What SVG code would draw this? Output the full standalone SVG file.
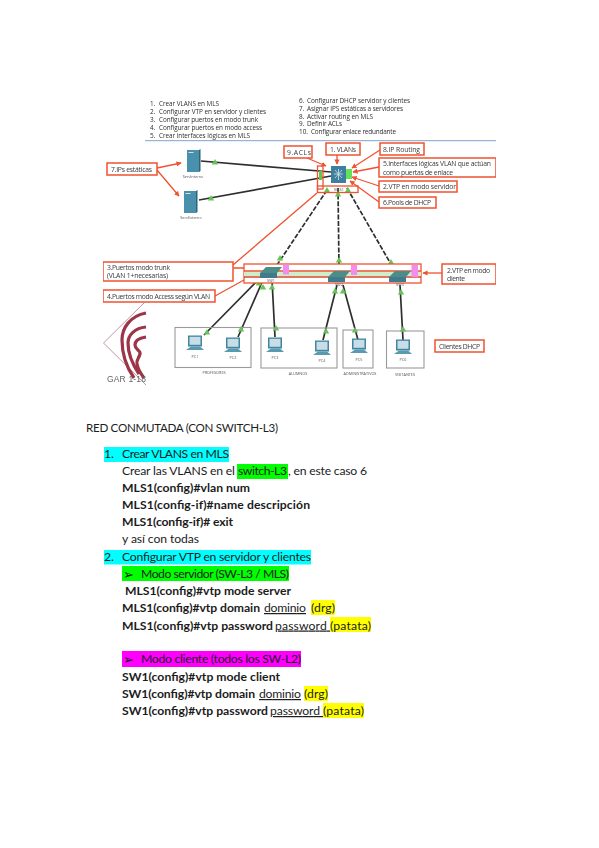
<svg xmlns="http://www.w3.org/2000/svg" width="599" height="848" viewBox="0 0 599 848">
<style>
.f{font-family:"Open Sans","Noto Sans",sans-serif;fill:#2e2e2e}
.s{font-size:6.400px}
.b{font-size:6.800px;fill:#3a3a3a}
.c{font-size:3.800px;fill:#555;text-anchor:middle}
.box{fill:#fff;stroke:#ef5230;stroke-width:1.500}
.nb{fill:none;stroke:#ef5230;stroke-width:1.300}
.ar{fill:none;stroke:#ef5230;stroke-width:1.300;marker-end:url(#a)}
.l{fill:none;stroke:#2f2f2f;stroke-width:1.700}
.d{fill:none;stroke:#2f2f2f;stroke-width:1.700;stroke-dasharray:5 1.600}
.g{fill:#62c653}
.z{fill:none;stroke:#9a9a9a;stroke-width:1.100}
.t{font-family:Lato,"Open Sans",sans-serif;font-size:12.200px;fill:#1c1c1c}
.w{font-weight:700}
.u{text-decoration:underline}
.arc{fill:none;stroke:#9c3446;stroke-width:3.200}
</style>
<defs>
<marker id="a" markerWidth="4" markerHeight="4" refX="3.500" refY="2" orient="auto"><path d="M0 0L4 2L0 4z" fill="#ef5230"/></marker>
<filter id="bl" x="0" y="0" width="1" height="1"><feGaussianBlur stdDeviation="0.35"/></filter>
<polygon id="tri" class="g" points="0,-3 3.200,2.400 -3.200,2.400"/>
<g id="pc"><rect x="-7" y="-7.500" width="14" height="11" fill="#3f86a0"/><rect x="-5.500" y="-6.200" width="11" height="8" fill="#c8dde6"/><path d="M-4 3.500H5L9 7H-9z" fill="#5a9ab0"/></g>
<g id="srv"><rect width="12" height="22" fill="#4a90ad"/><path d="M12 0l1.500 -1V21L12 22z" fill="#2f6478"/><rect x="1.500" y="2" width="5" height="1" fill="#cfe2ea"/></g>
<g id="sw"><path d="M0 6L6 0H22L17 6V11H0z" fill="#4d8d88"/><path d="M0 6H17V11H0z" fill="#3f7a8c"/></g>
</defs>

<g id="figure" filter="url(#bl)">
<g id="task-list">
<g class="f s">
<text x="150" y="106">1.</text><text x="159" y="106" textLength="60">Crear VLANS en MLS</text>
<text x="150" y="114">2.</text><text x="159" y="114" textLength="107">Configurar VTP en servidor y clientes</text>
<text x="150" y="122">3.</text><text x="159" y="122" textLength="99">Configurar puertos en modo trunk</text>
<text x="150" y="130">4.</text><text x="159" y="130" textLength="103">Configurar puertos en modo access</text>
<text x="150" y="138">5.</text><text x="159" y="138" textLength="91">Crear interfaces lógicas en MLS</text>
<text x="299" y="103">6.</text><text x="307" y="103" textLength="103">Configurar DHCP servidor y clientes</text>
<text x="299" y="110.800">7.</text><text x="307" y="110.800" textLength="96">Asignar IPS estáticas a servidores</text>
<text x="299" y="118.600">8.</text><text x="307" y="118.600" textLength="66">Activar routing en MLS</text>
<text x="299" y="126.400">9.</text><text x="307" y="126.400" textLength="35">Definir ACLs</text>
<text x="299" y="134.200">10.</text><text x="311" y="134.200" textLength="85">Configurar enlace redundante</text>
</g>
<line x1="145" y1="140.700" x2="496" y2="140.700" stroke="#7fa3cc" stroke-width="1"/>
</g>

<g id="connectors">
<path class="l" d="M201 161L331 172M199 200L331 176M258 280L204 335M263 280L238 337M272 280L275 337M337 285L323 340M343 285L358 340M400 285L403 340"/>
<path class="d" d="M327 190L275 268M338 188L339 268M347 188L392 266"/>
<path class="ar" d="M157 168L181 163"/>
<path class="ar" d="M157 170L179 196"/>
<path class="ar" d="M307 158L326 166"/>
<path class="ar" d="M337 155L337 164"/>
<path class="ar" d="M380 150L352 168"/>
<path class="ar" d="M379 167L353 172"/>
<path class="ar" d="M379 186L352 177"/>
<path class="ar" d="M379 202L350 181"/>
<path class="nb" d="M317 193L233 265M233 268H244M215 296L244 280"/>
<path class="ar" d="M442 273L423 273"/>
<g>
<use href="#tri" x="215" y="162"/><use href="#tri" x="211" y="198"/>
<use href="#tri" x="327" y="190"/><use href="#tri" x="338" y="194"/><use href="#tri" x="348" y="190"/>
<use href="#tri" x="280" y="258"/><use href="#tri" x="339" y="260"/><use href="#tri" x="391" y="262"/>
<use href="#tri" x="259" y="283"/><use href="#tri" x="263" y="287"/><use href="#tri" x="272" y="287"/>
<use href="#tri" x="335" y="291"/><use href="#tri" x="343" y="291"/><use href="#tri" x="401" y="292"/>
<use href="#tri" x="207" y="332"/><use href="#tri" x="241" y="329"/><use href="#tri" x="276" y="328"/>
<use href="#tri" x="326" y="331"/><use href="#tri" x="355" y="330"/><use href="#tri" x="403" y="329"/>
</g>
</g>

<g id="serv-interno"><use href="#srv" x="187" y="150"/><text class="f c" x="193" y="178">ServInterno</text></g>
<g id="serv-externo"><use href="#srv" x="184" y="191"/><text class="f c" x="191" y="219">ServExterno</text></g>

<g id="mls">
<rect x="319" y="171" width="3" height="9" class="g"/>
<rect x="346" y="169" width="6" height="10" fill="#66e05a"/>
<rect x="331" y="166" width="15" height="17" fill="#3d7f9c"/>
<path d="M334 174H343M338.500 169V180M335 170L342 178M342 170L335 178" stroke="#cfe6ee" stroke-width=".8"/>
<rect class="nb" x="317.500" y="166" width="5.500" height="23"/>
<rect class="nb" x="317.500" y="186" width="40.500" height="6.500"/>
<text class="f c" x="339" y="191">MLS1</text>
</g>

<g id="trunk-band">
<rect x="244" y="264" width="177" height="19" fill="#fff" stroke="#ef5230" stroke-width="1.300"/>
<rect x="244" y="271.500" width="177" height="5" fill="#cfeccb"/>
<line x1="244" y1="271" x2="421" y2="271" stroke="#ef5230" stroke-width="1.300"/>
<line x1="244" y1="277" x2="421" y2="277" stroke="#d9482c" stroke-width="1.700"/>
<rect x="283" y="264.500" width="6" height="10" fill="#f48cf0"/>
<rect x="351" y="265" width="6" height="10" fill="#f48cf0"/>
<rect x="411.500" y="265" width="6.500" height="12" fill="#f48cf0"/>
</g>
<g id="sw1"><use href="#sw" x="260" y="267"/><text class="f c" x="271" y="282">SW1</text></g>
<g id="sw2"><use href="#sw" x="328" y="271"/><text class="f c" x="339" y="286">SW2</text></g>
<g id="sw3"><use href="#sw" x="389" y="271"/><text class="f c" x="400" y="286">SW3</text></g>

<g id="lbl-ips"><rect class="box" x="107" y="163" width="50" height="12"/><text class="f b" x="111" y="171.500" textLength="41">7.IPs estáticas</text></g>
<g id="lbl-acls"><rect class="box" x="284" y="146" width="28" height="12"/><text class="f b" x="287" y="154.500" textLength="24">9.ACLs</text></g>
<g id="lbl-vlans"><rect class="box" x="326" y="143" width="34" height="12"/><text class="f b" x="330" y="151.500" textLength="26">1. VLANs</text></g>
<g id="lbl-routing"><rect class="box" x="380" y="143" width="44" height="12"/><text class="f b" x="383" y="151.500" textLength="37">8.IP Routing</text></g>
<g id="lbl-if"><rect class="box" x="379" y="158" width="117" height="19"/><text class="f b" x="383" y="166" textLength="108">5.Interfaces lógicas VLAN que actúan</text><text class="f b" x="383" y="174.500" textLength="70">como puertas de enlace</text></g>
<g id="lbl-vtp-s"><rect class="box" x="379" y="181" width="78" height="11"/><text class="f b" x="383" y="189" textLength="73">2.VTP en modo servidor</text></g>
<g id="lbl-pools"><rect class="box" x="379" y="197" width="57" height="11"/><text class="f b" x="383" y="205" textLength="48">6.Pools de DHCP</text></g>
<g id="lbl-trunk"><rect class="box" x="103" y="262" width="130" height="19"/><text class="f b" x="107" y="270" textLength="63">3.Puertos modo trunk</text><text class="f b" x="107" y="278" textLength="61">(VLAN 1+necesarias)</text></g>
<g id="lbl-access"><rect class="box" x="103" y="290" width="112" height="12"/><text class="f b" x="107" y="298.500" textLength="103">4.Puertos modo Access según VLAN</text></g>
<g id="lbl-vtp-c"><rect class="box" x="442" y="264" width="54" height="20"/><text class="f b" x="447" y="273" textLength="43">2.VTP en modo</text><text class="f b" x="447" y="281" textLength="18">cliente</text></g>
<g id="lbl-dhcp"><rect class="box" x="435" y="340" width="49" height="12"/><text class="f b" x="439" y="348.500" textLength="41">Clientes DHCP</text></g>

<g id="profesores"><rect class="z" x="175" y="327.500" width="76" height="40"/><text class="f c" x="214" y="374">PROFESORES</text>
<g id="pc1"><use href="#pc" x="195" y="343"/><text class="f c" x="195" y="358">PC1</text></g>
<g id="pc2"><use href="#pc" x="233" y="345"/><text class="f c" x="233" y="359">PC2</text></g></g>
<g id="alumnos"><rect class="z" x="261" y="328" width="76" height="40"/><text class="f c" x="298" y="375">ALUMNOS</text>
<g id="pc3"><use href="#pc" x="275" y="345"/><text class="f c" x="275" y="359">PC3</text></g>
<g id="pc4"><use href="#pc" x="322" y="348"/><text class="f c" x="322" y="362">PC4</text></g></g>
<g id="administrativos"><rect class="z" x="343" y="330" width="30" height="38"/><text class="f c" x="360" y="375">ADMINISTRATIVOS</text>
<g id="pc5"><use href="#pc" x="359" y="346"/><text class="f c" x="359" y="361">PC5</text></g></g>
<g id="visitantes"><rect class="z" x="386.500" y="331" width="37.500" height="37"/><text class="f c" x="405" y="376">VISITANTES</text>
<g id="pc6"><use href="#pc" x="403" y="347"/><text class="f c" x="403" y="361">PC6</text></g></g>

<g id="logo">
<path d="M145 302L103.500 343L146 385" fill="none" stroke="#b57a82" stroke-width=".8"/>
<path class="arc" d="M146 313C130 316 122 328 122 340C122 355 127 368 134 378"/>
<path class="arc" d="M146 327C135 328 128 335 128 343C128 355 133 365 139 374"/>
<path class="arc" d="M146 337C139 338 135 341 135 345C135 350 141 350 140 354C139 358 136 360 137 364C138 370 141 374 144 378"/>
<text x="107" y="382" font-family="Liberation Sans,sans-serif" font-size="8.500" fill="#666" textLength="39">GAR 1-18</text>
</g>
</g>

<g id="document">
<rect x="104" y="447" width="125" height="15" fill="#00ffff"/>
<rect x="237" y="464" width="51" height="15" fill="#00ff00"/>
<rect x="104" y="550" width="207" height="14.500" fill="#00ffff"/>
<rect x="122" y="566" width="167" height="15" fill="#00ff00"/>
<rect x="311" y="600" width="24" height="15" fill="#ffff00"/>
<rect x="330" y="617" width="41" height="15" fill="#ffff00"/>
<rect x="122" y="651" width="179" height="16" fill="#ff00ff"/>
<rect x="304" y="686" width="24" height="15" fill="#ffff00"/>
<rect x="323" y="703" width="41" height="15" fill="#ffff00"/>
<text class="t" style="font-size:11.600px" x="86" y="432" textLength="192">RED CONMUTADA (CON SWITCH-L3)</text>
<text class="t" x="104" y="458">1.</text><text class="t" x="122" y="458" textLength="107">Crear VLANS en MLS</text>
<text class="t" x="122" y="475" textLength="113">Crear las VLANS en el</text>
<text class="t" x="238" y="475" textLength="49">switch-L3</text><text class="t" x="288" y="475" textLength="79">, en este caso 6</text>
<text class="t w" x="122" y="492" textLength="128">MLS1(config)#vlan num</text>
<text class="t w" x="122" y="509" textLength="188">MLS1(config-if)#name descripción</text>
<text class="t w" x="122" y="526" textLength="111">MLS1(config-if)# exit</text>
<text class="t" x="122" y="543" textLength="77">y así con todas</text>
<text class="t" x="104" y="561">2.</text><text class="t" x="122" y="561" textLength="189">Configurar VTP en servidor y clientes</text>
<text x="123" y="579" font-family="DejaVu Sans,sans-serif" font-size="13px" fill="#111">➢</text><text class="t" x="141" y="578" textLength="148">Modo servidor (SW-L3 / MLS)</text>
<text class="t w" x="125" y="595" textLength="166">MLS1(config)#vtp mode server</text>
<text class="t w" x="122" y="612" textLength="138">MLS1(config)#vtp domain</text><text class="t u" x="264" y="612" textLength="42">dominio</text><text class="t" x="311" y="612" textLength="24">(drg)</text>
<text class="t w" x="122" y="629.500" textLength="151">MLS1(config)#vtp password</text><text class="t u" x="275" y="629.500" textLength="55" xml:space="preserve">password </text><text class="t" x="330" y="629.500" textLength="41">(patata)</text>
<text x="123" y="664" font-family="DejaVu Sans,sans-serif" font-size="13px" fill="#111">➢</text><text class="t" x="141" y="663" textLength="160">Modo cliente (todos los SW-L2)</text>
<text class="t w" x="122" y="681" textLength="158">SW1(config)#vtp mode client</text>
<text class="t w" x="122" y="698" textLength="133">SW1(config)#vtp domain</text><text class="t u" x="259" y="698" textLength="42">dominio</text><text class="t" x="304" y="698" textLength="24">(drg)</text>
<text class="t w" x="122" y="715" textLength="146">SW1(config)#vtp password</text><text class="t u" x="270" y="715" textLength="53" xml:space="preserve">password </text><text class="t" x="323" y="715" textLength="41">(patata)</text>
</g>
</svg>
